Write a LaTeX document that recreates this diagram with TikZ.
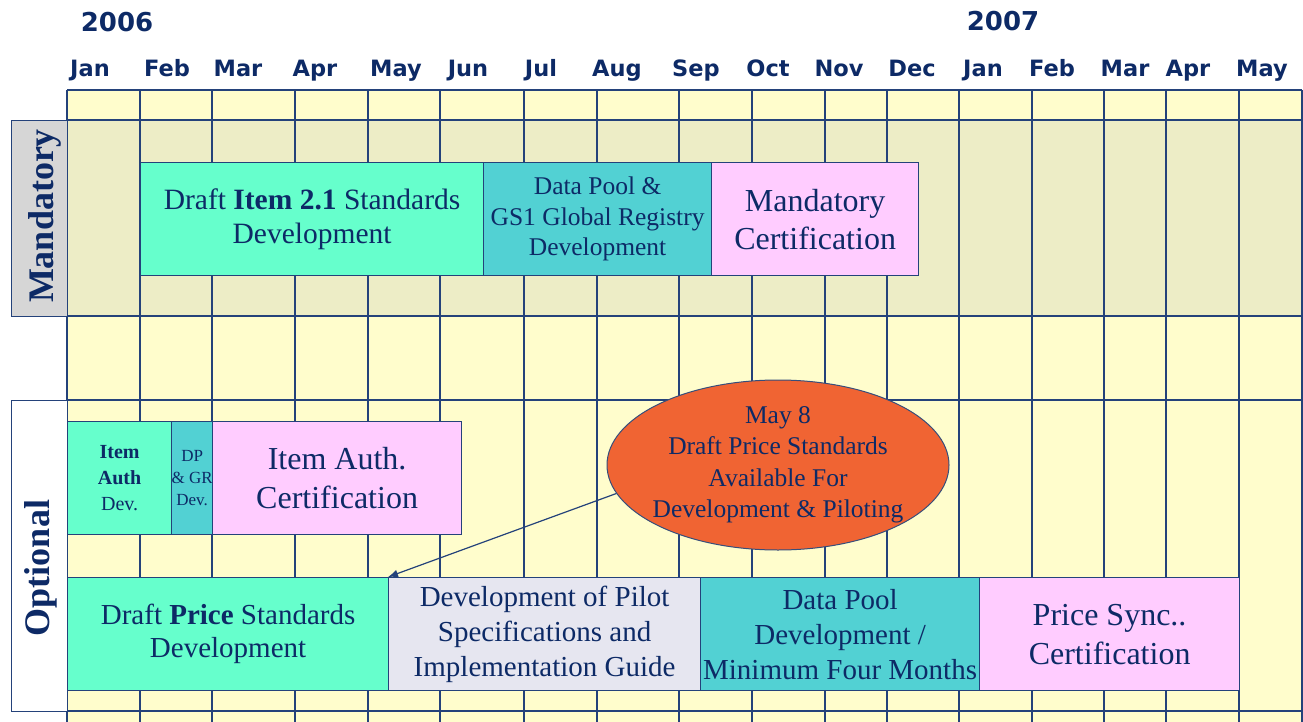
\documentclass[tikz,border=0pt]{standalone}
\usepackage{fontspec}
\setmainfont{Liberation Serif}
\newfontfamily\hdrfont{DejaVu Sans}
\usetikzlibrary{shapes.geometric,arrows.meta}

\definecolor{navy}{HTML}{0D2A66}
\definecolor{gridline}{HTML}{24427A}
\definecolor{paper}{HTML}{FFFDCC}
\definecolor{band}{HTML}{EDEDC6}
\definecolor{aquabar}{HTML}{66FFCC}
\definecolor{tealbar}{HTML}{52D1D3}
\definecolor{pinkbar}{HTML}{FFCCFF}
\definecolor{lavbar}{HTML}{E6E6F0}
\definecolor{flagorange}{HTML}{F06433}
\definecolor{sidegray}{HTML}{D6D6D6}

\begin{document}
\begin{tikzpicture}[x=1pt,y=-1pt]
\tikzstyle{gridln}=[draw=gridline,line width=1.4pt]
\tikzstyle{bar}=[draw=gridline,line width=1.2pt,inner sep=0pt,align=center,text=navy,anchor=north west,minimum height=113pt]
\tikzstyle{month}=[text=navy,anchor=base,font=\hdrfont\bfseries\fontsize{22.5}{26}\selectfont]
\tikzstyle{year}=[text=navy,anchor=base,font=\hdrfont\bfseries\fontsize{26}{30}\selectfont]
\tikzstyle{sidebox}=[draw=gridline,line width=1.4pt,anchor=north west,minimum width=56pt,inner sep=0pt]
\tikzstyle{sidelbl}=[text=navy,rotate=90,font=\bfseries\fontsize{36}{40}\selectfont]
\useasboundingbox (0,0) rectangle (1303,722);

% background of the chart
\fill[paper] (67,90) rectangle (1302,722);
\fill[band] (67,120) rectangle (1302,316);
\foreach \gx in {67,140,212,295,368,440,524,597,679,752,825,887,959,1032,1104,1166,1239,1302}
  \draw[gridln] (\gx,90) -- (\gx,722);
\foreach \gy in {90,120,316,400,711}
  \draw[gridln] (67,\gy) -- (1302,\gy);

% years and months
\node[year] (y2006) at (117,32) {2006};
\node[year] (y2007) at (1003,31) {2007};
\foreach \mx/\mn [count=\i] in {90/Jan,167/Feb,238/Mar,315/Apr,396/May,468/Jun,541/Jul,617/Aug,696/Sep,768/Oct,839/Nov,912/Dec,983/Jan,1052/Feb,1125/Mar,1188/Apr,1262/May}
  \node[month] (m\i) at (\mx,77) {\mn};

% side labels
\node[sidebox,fill=sidegray,minimum height=196pt] (mandbox) at (11,120) {};
\node[sidelbl] (mandlbl) at (45,216) {Mandatory};
\node[sidebox,fill=white,minimum height=311pt] (optbox) at (11,400) {};
\node[sidelbl] (optlbl) at (41,568) {Optional};

% mandatory track
\node[bar,fill=aquabar,minimum width=343pt,font=\fontsize{29.5}{34}\selectfont] (draftitem) at (140,162)
  {Draft \textbf{Item 2.1} Standards\\Development};
\node[bar,fill=tealbar,minimum width=228pt,font=\fontsize{25.5}{30.5}\selectfont] (dpreg) at (483,162)
  {Data Pool \&\\GS1 Global Registry\\Development};
\node[bar,fill=pinkbar,minimum width=207pt,font=\fontsize{32}{38}\selectfont] (mandcert) at (711,162)
  {Mandatory\\Certification};

% optional track
\node[bar,fill=aquabar,minimum width=104pt,font=\fontsize{20}{26}\selectfont] (itemauth) at (67,421)
  {\textbf{Item}\\\textbf{Auth}\\Dev.};
\node[bar,fill=tealbar,minimum width=41pt,font=\fontsize{17}{22}\selectfont] (dpgr) at (171,421)
  {DP\\\& GR\\Dev.};
\node[bar,fill=pinkbar,minimum width=249pt,font=\fontsize{32}{39}\selectfont] (itemcert) at (212,421)
  {Item Auth.\\Certification};
\node[bar,fill=aquabar,minimum width=321pt,font=\fontsize{29}{33}\selectfont] (draftprice) at (67,577)
  {Draft \textbf{Price} Standards\\Development};
\node[bar,fill=lavbar,minimum width=312pt,font=\fontsize{29}{35}\selectfont] (pilot) at (388,577)
  {Development of Pilot\\Specifications and\\Implementation Guide};
\node[bar,fill=tealbar,minimum width=279pt,font=\fontsize{29}{35}\selectfont] (dpdev) at (700,577)
  {Data Pool\\Development /\\Minimum Four Months};
\node[bar,fill=pinkbar,minimum width=260pt,font=\fontsize{32}{39}\selectfont] (pricecert) at (979,577)
  {Price Sync..\\Certification};

% milestone
\node[ellipse,draw=gridline!80!gray,line width=1pt,fill=flagorange,minimum width=342pt,minimum height=170pt,
  inner sep=-14pt,align=center,text=navy,font=\fontsize{25.5}{31.5}\selectfont] (may8) at (778,465)
  {May 8\\Draft Price Standards\\Available For\\Development \& Piloting};
\draw[gridline,line width=1.2pt,-{Latex[length=10pt,width=8pt]}] (may8.190) -- (pilot.north west);
\end{tikzpicture}
\end{document}
